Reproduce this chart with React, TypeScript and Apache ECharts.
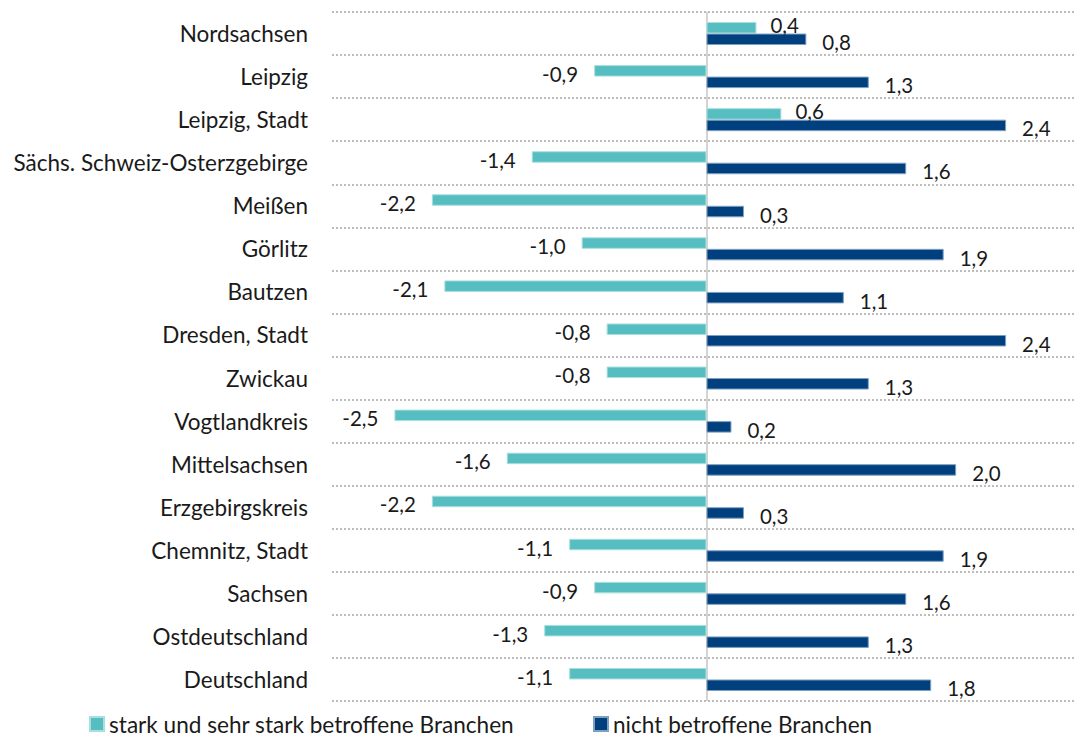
import React, { useEffect, useRef } from "react";
import * as echarts from "echarts";

const categories = [
  "Nordsachsen",
  "Leipzig",
  "Leipzig, Stadt",
  "Sächs. Schweiz-Osterzgebirge",
  "Meißen",
  "Görlitz",
  "Bautzen",
  "Dresden, Stadt",
  "Zwickau",
  "Vogtlandkreis",
  "Mittelsachsen",
  "Erzgebirgskreis",
  "Chemnitz, Stadt",
  "Sachsen",
  "Ostdeutschland",
  "Deutschland",
];

const starkBetroffen = [0.4, -0.9, 0.6, -1.4, -2.2, -1.0, -2.1, -0.8, -0.8, -2.5, -1.6, -2.2, -1.1, -0.9, -1.3, -1.1];
const nichtBetroffen = [0.8, 1.3, 2.4, 1.6, 0.3, 1.9, 1.1, 2.4, 1.3, 0.2, 2.0, 0.3, 1.9, 1.6, 1.3, 1.8];

const seriesNames = ["stark und sehr stark betroffene Branchen", "nicht betroffene Branchen"];

const FONT = "Lato";
const TEAL = "#56BEC0";
const NAVY = "#00407F";
const TEXT = "#1a1a1a";

const fmt = (v: number) => v.toFixed(1).replace(".", ",");

export default function App() {
  const ref = useRef<HTMLDivElement>(null);
  useEffect(() => {
    if (!ref.current) return;
    const chart = echarts.init(ref.current, undefined, { renderer: "svg" });
    const mkLabel = () => ({
      show: true,
      position: "right" as any,
      distance: 16,
      offset: [0, 3],
      color: TEXT,
      fontFamily: FONT,
      fontSize: 20.5,
      formatter: (p: any) => fmt(p.value),
    });
    const toData = (arr: number[], upperBar: boolean) =>
      arr.map((v) => ({
        value: v,
        label: {
          position: v < 0 ? "left" : "right",
          ...(upperBar && v > 0 ? { offset: [0, -3], distance: 14 } : {}),
        },
      }));
    const legendBase = {
      top: 712,
      padding: 0,
      icon: "rect",
      itemWidth: 14,
      itemHeight: 14,
      itemGap: 0,
      textStyle: { fontFamily: FONT, fontSize: 22.6, color: TEXT, lineHeight: 24 },
    };
    chart.setOption({
      animation: false,
      grid: { left: 332, right: 0, top: 12, bottom: 37, containLabel: false },
      xAxis: {
        type: "value",
        min: -3,
        max: 3,
        interval: 3,
        axisLine: { show: false },
        axisTick: { show: false },
        axisLabel: { show: false },
        splitLine: {
          show: true,
          lineStyle: { color: ["transparent", "#d4d4d4", "transparent"], width: 2 },
        },
      },
      yAxis: {
        type: "category",
        data: categories,
        inverse: true,
        axisLine: { show: false },
        axisTick: { show: false },
        axisLabel: {
          margin: 24,
          color: TEXT,
          fontFamily: FONT,
          fontSize: 22.5,
        },
        splitLine: {
          show: true,
          lineStyle: { color: "#a6a6a6", type: [2, 2], width: 1.5 },
        },
      },
      legend: [
        { ...legendBase, left: 89, data: [seriesNames[0]] },
        { ...legendBase, left: 593, data: [seriesNames[1]] },
      ],
      series: [
        {
          name: seriesNames[0],
          type: "bar",
          data: toData(starkBetroffen, true),
          barWidth: 11.5,
          barGap: "0%",
          itemStyle: { color: TEAL, borderColor: "#a9dfe0", borderWidth: 1 },
          label: mkLabel(),
        },
        {
          name: seriesNames[1],
          type: "bar",
          data: toData(nichtBetroffen, false),
          barWidth: 11.5,
          barGap: "0%",
          itemStyle: { color: NAVY, borderColor: "#7f9fbf", borderWidth: 1 },
          label: mkLabel(),
        },
      ],
    });
    return () => chart.dispose();
  }, []);
  return (
    <div style={{ position: "absolute", left: 0, top: 0, width: 1076, height: 738, overflow: "hidden", background: "#fff" }}>
      <div ref={ref} style={{ width: 1081, height: 738 }} />
    </div>
  );
}
